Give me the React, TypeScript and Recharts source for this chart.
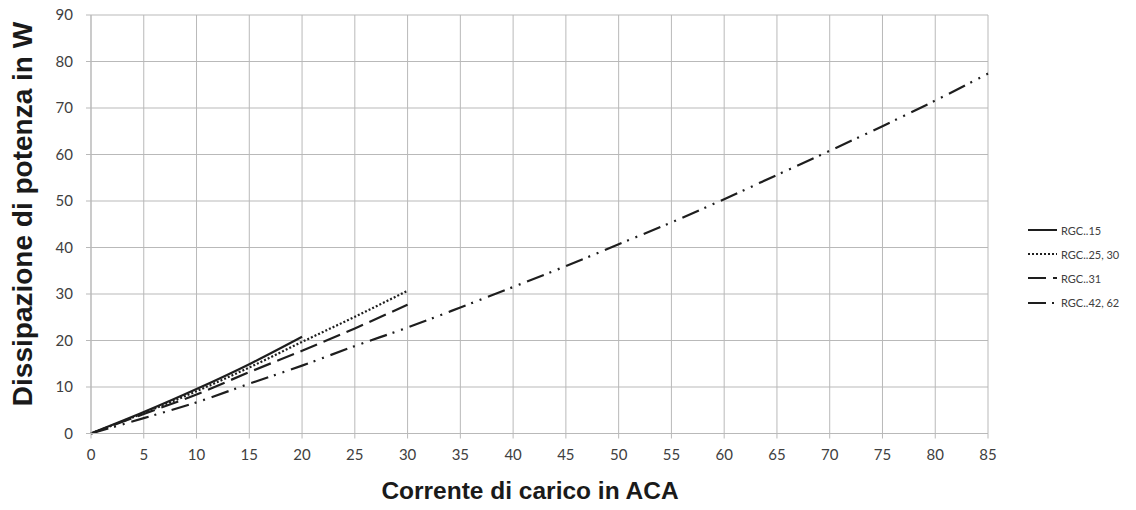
import React from "react";
import { LineChart, Line, XAxis, YAxis, CartesianGrid } from "recharts";

const xTicks = [0, 5, 10, 15, 20, 25, 30, 35, 40, 45, 50, 55, 60, 65, 70, 75, 80, 85];
const yTicks = [0, 10, 20, 30, 40, 50, 60, 70, 80, 90];

const current15 = [0, 5, 10, 15, 20];
const loss15 = [0, 4.6, 9.55, 14.9, 20.8];

const current25 = [0, 5, 10, 15, 20, 25, 30];
const loss25 = [0, 4.4, 9.1, 14.2, 19.7, 25.1, 30.7];

const current31 = [0, 5, 10, 15, 20, 25, 30];
const loss31 = [0, 4.2, 8.4, 13.2, 17.8, 22.6, 27.7];

const current42 = [0, 5, 10, 15, 20, 25, 30, 35, 40, 45, 50, 55, 60, 65, 70, 75, 80, 85];
const loss42 = [0, 3.3, 6.7, 10.7, 14.6, 18.8, 22.8, 27.1, 31.5, 36.0, 40.7, 45.4, 50.4, 55.6, 60.8, 66.1, 71.6, 77.4];

const seriesNames = ["RGC..15", "RGC..25, 30", "RGC..31", "RGC..42, 62"];
const seriesDash = ["", "2 2", "18 7", "18 6 2 7 2 7"];

const xTitle = "Corrente di carico in ACA";
const yTitle = "Dissipazione di potenza in W";

const toPoints = (xs: number[], ys: number[]) => xs.map((x, i) => ({ x, y: ys[i] }));

const seriesData = [
  toPoints(current15, loss15),
  toPoints(current25, loss25),
  toPoints(current31, loss31),
  toPoints(current42, loss42),
];

const GRID = "#b9b9b9";
const INK = "#1e1e1e";
const TEXT = "#404040";

export default function App() {
  return (
    <div style={{ position: "absolute", left: 0, top: 0, width: 1136, height: 510, background: "#fff" }}>
      <LineChart
        width={1136}
        height={510}
        margin={{ top: 15, right: 148, bottom: 36.5, left: 31 }}
      >
        <CartesianGrid stroke={GRID} strokeWidth={1} />
        <XAxis
          dataKey="x"
          type="number"
          domain={[0, 85]}
          ticks={xTicks}
          interval={0}
          allowDuplicatedCategory={false}
          height={40}
          tickSize={5}
          tickMargin={11}
          axisLine={{ stroke: GRID }}
          tickLine={{ stroke: GRID }}
          tick={{ fontFamily: "Lato", fontSize: 15, fill: TEXT }}
        />
        <YAxis
          dataKey="y"
          type="number"
          domain={[0, 90]}
          ticks={yTicks}
          interval={0}
          width={60}
          tickSize={5}
          tickMargin={13}
          axisLine={{ stroke: GRID }}
          tickLine={{ stroke: GRID }}
          tick={{ fontFamily: "Lato", fontSize: 15, fill: TEXT }}
        />
        {seriesData.map((d, i) => (
          <Line
            key={seriesNames[i]}
            data={d}
            dataKey="y"
            name={seriesNames[i]}
            type="monotone"
            stroke={INK}
            strokeWidth={2.2}
            strokeDasharray={seriesDash[i] || undefined}
            dot={false}
            activeDot={false}
            isAnimationActive={false}
          />
        ))}
      </LineChart>

      <div
        style={{
          position: "absolute",
          left: 530 - 250,
          top: 476,
          width: 500,
          textAlign: "center",
          fontFamily: "'Liberation Sans', Arial, sans-serif",
          fontWeight: "bold",
          fontSize: 24.5,
          lineHeight: "30px",
          color: "#1a1a1a",
        }}
      >
        {xTitle}
      </div>

      <div
        style={{
          position: "absolute",
          left: 23 - 250,
          top: 214 - 16,
          width: 500,
          height: 32,
          textAlign: "center",
          transform: "rotate(-90deg)",
          transformOrigin: "250px 16px",
          fontFamily: "'Liberation Sans', Arial, sans-serif",
          fontWeight: "bold",
          fontSize: 28,
          lineHeight: "32px",
          color: "#1a1a1a",
          whiteSpace: "nowrap",
        }}
      >
        {yTitle}
      </div>

      {seriesNames.map((name, i) => (
        <div
          key={name}
          style={{
            position: "absolute",
            left: 1028,
            top: 230 + i * 24.2 - 8,
            height: 16,
            display: "flex",
            alignItems: "center",
            fontFamily: "Lato",
            fontSize: 11,
            color: TEXT,
            whiteSpace: "nowrap",
          }}
        >
          <svg width={30} height={16} style={{ display: "block" }}>
            <line
              x1={0}
              y1={8}
              x2={29}
              y2={8}
              stroke={INK}
              strokeWidth={2}
              strokeDasharray={seriesDash[i] || undefined}
            />
          </svg>
          <span style={{ marginLeft: 3 }}>{name}</span>
        </div>
      ))}
    </div>
  );
}
